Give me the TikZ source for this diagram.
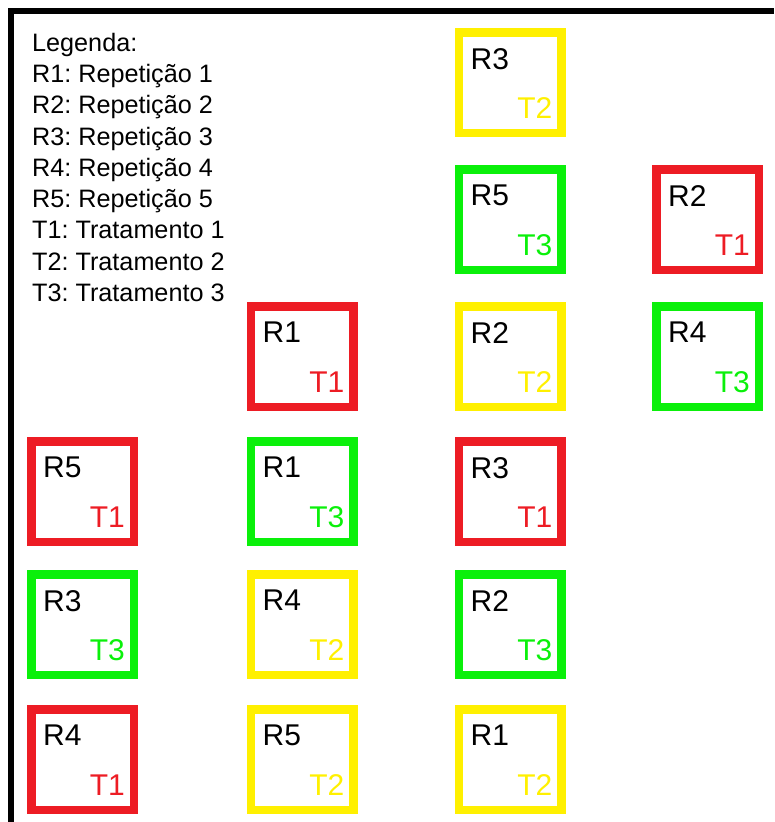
\documentclass[tikz,border=0pt]{standalone}
\usepackage{xcolor}
\usepackage{fontspec}
\setmainfont{Liberation Sans}
\usepackage{tikz}
\usetikzlibrary{positioning}

\definecolor{vermelho}{RGB}{237,28,36}
\definecolor{amarelo}{RGB}{255,240,0}
\definecolor{verde}{RGB}{10,240,10}

\tikzset{
    parcela/.style={draw, line width=8.5pt, minimum width=102.5pt, minimum height=100.5pt, inner sep=0pt},
    trat1/.style={parcela, draw=vermelho},
    trat2/.style={parcela, draw=amarelo},
    trat3/.style={parcela, draw=verde},
    rotulo/.style={inner sep=0pt, font=\fontsize{30}{32}\selectfont}
}

\frenchspacing

\begin{document}
\begin{tikzpicture}[x=1pt, y=-1pt]

        \useasboundingbox (0,0) rectangle (774,822);
        \draw[line width=6pt] (11,822) -- (11,11) -- (774,11);

        % legenda
        \node[anchor=north west, align=left, inner sep=0pt, font=\fontsize{25.2}{31.25}\selectfont] (legenda) at (32,33)
            {Legenda:\\R1: Repetição 1\\R2: Repetição 2\\R3: Repetição 3\\R4: Repetição 4\\R5: Repetição 5\\T1: Tratamento 1\\T2: Tratamento 2\\T3: Tratamento 3};

        % parcelas
        \node[trat2] (r3t2) at (510,82.5) {};
        \node[trat3] (r5t3) [below=28pt of r3t2] {};
        \node[trat1] (r2t1) [right=86.5pt of r5t3] {};
        \node[trat2] (r2t2) [below=28pt of r5t3] {};
        \node[trat1] (r1t1) [left=97pt of r2t2] {};
        \node[trat3] (r4t3) [right=86.5pt of r2t2] {};

        \node[trat1] (r3t1) [below=26pt of r2t2] {};
        \node[trat3] (r1t3) [left=97pt of r3t1] {};
        \node[trat1] (r5t1) [left=108.5pt of r1t3] {};

        \node[trat3] (r2t3) [below=24pt of r3t1] {};
        \node[trat2] (r4t2) [left=97pt of r2t3] {};
        \node[trat3] (r3t3) [left=108.5pt of r4t2] {};

        \node[trat2] (r1t2) [below=26pt of r2t3] {};
        \node[trat2] (r5t2) [left=97pt of r1t2] {};
        \node[trat1] (r4t1) [left=108.5pt of r5t2] {};

        % rotulos
        \foreach \p/\r/\t/\c in {r3t2/R3/T2/amarelo, r5t3/R5/T3/verde, r2t1/R2/T1/vermelho,
                                 r1t1/R1/T1/vermelho, r2t2/R2/T2/amarelo, r4t3/R4/T3/verde,
                                 r5t1/R5/T1/vermelho, r1t3/R1/T3/verde, r3t1/R3/T1/vermelho,
                                 r3t3/R3/T3/verde, r4t2/R4/T2/amarelo, r2t3/R2/T3/verde,
                                 r4t1/R4/T1/vermelho, r5t2/R5/T2/amarelo, r1t2/R1/T2/amarelo}
        {
            \node[rotulo, anchor=north west] (\p-r) at ([xshift=16pt, yshift=-20pt]\p.north west) {\r};
            \node[rotulo, anchor=south east, text=\c] (\p-t) at ([xshift=-13pt, yshift=18pt]\p.south east) {\t};
        }

\end{tikzpicture}
\end{document}
